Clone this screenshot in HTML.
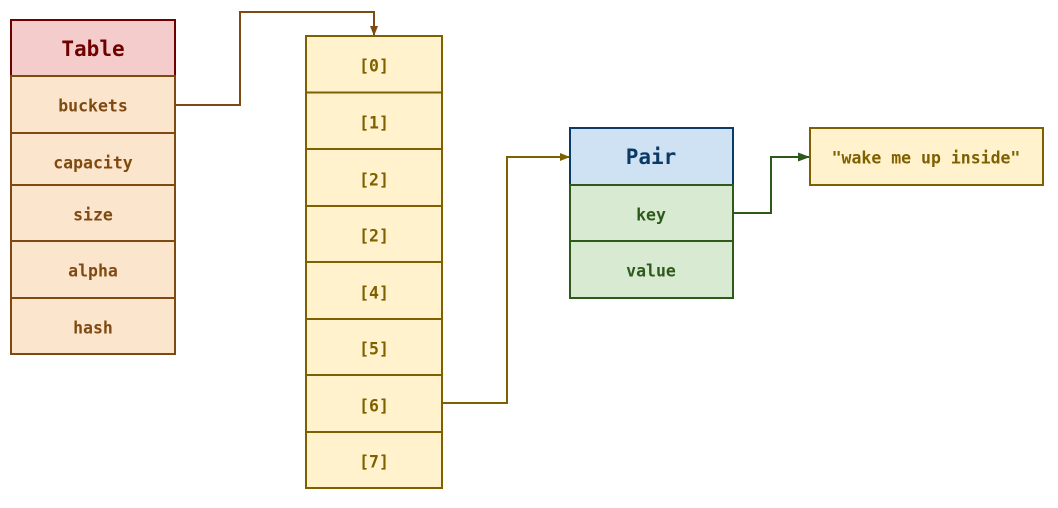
<!DOCTYPE html>
<html><head><meta charset="utf-8"><style>
html,body{margin:0;padding:0;background:#fff;}
svg text{font-family:"DejaVu Sans Mono","Liberation Mono",monospace;font-weight:bold;text-anchor:middle;dominant-baseline:central;}
</style></head><body>
<svg width="1058" height="503" viewBox="0 0 1058 503" xmlns="http://www.w3.org/2000/svg">
<defs>
<marker id="ab" markerWidth="10" markerHeight="10" refX="9" refY="5" orient="auto" markerUnits="userSpaceOnUse"><path d="M0,1 L10,5 L0,9 Z" fill="#7f4a12"/></marker>
<marker id="ag" markerWidth="10" markerHeight="10" refX="9" refY="5" orient="auto" markerUnits="userSpaceOnUse"><path d="M0,1 L10,5 L0,9 Z" fill="#7f6000"/></marker>
<marker id="agr" markerWidth="12" markerHeight="10" refX="11" refY="5" orient="auto" markerUnits="userSpaceOnUse"><path d="M0,0.5 L12,5 L0,9.5 Z" fill="#2d5a1b"/></marker>
</defs>
<rect x="11" y="20" width="164" height="56" fill="#f4cccc" stroke="#6f0000" stroke-width="2"/>
<g stroke="#7f4a12" stroke-width="2" fill="#fce5cd">
<rect x="11" y="76" width="164" height="57"/>
<rect x="11" y="133" width="164" height="52"/>
<rect x="11" y="185" width="164" height="56"/>
<rect x="11" y="241" width="164" height="57"/>
<rect x="11" y="298" width="164" height="56"/>
</g>
<text x="93" y="49" font-size="21" fill="#6f0000">Table</text>
<g font-size="16.5" fill="#7f4a12">
<text x="93" y="106">buckets</text>
<text x="93" y="163">capacity</text>
<text x="93" y="215">size</text>
<text x="93" y="271">alpha</text>
<text x="93" y="328">hash</text>
</g>
<g stroke="#7f6000" stroke-width="2" fill="#fff2cc">
<rect x="306" y="36" width="136" height="56.5"/>
<rect x="306" y="92.5" width="136" height="56.5"/>
<rect x="306" y="149" width="136" height="57"/>
<rect x="306" y="206" width="136" height="56"/>
<rect x="306" y="262" width="136" height="57"/>
<rect x="306" y="319" width="136" height="56"/>
<rect x="306" y="375" width="136" height="57"/>
<rect x="306" y="432" width="136" height="56"/>
</g>
<g font-size="16.5" fill="#7f6000">
<text x="374" y="66">[0]</text>
<text x="374" y="123">[1]</text>
<text x="374" y="180">[2]</text>
<text x="374" y="236">[2]</text>
<text x="374" y="293">[4]</text>
<text x="374" y="349">[5]</text>
<text x="374" y="406">[6]</text>
<text x="374" y="462">[7]</text>
</g>
<rect x="570" y="128" width="163" height="57" fill="#cfe2f3" stroke="#0b3a66" stroke-width="2"/>
<g stroke="#2d5a1b" stroke-width="2" fill="#d9ead3">
<rect x="570" y="185" width="163" height="56"/>
<rect x="570" y="241" width="163" height="57"/>
</g>
<text x="651" y="157" font-size="21" fill="#0b3a66">Pair</text>
<text x="651" y="215" font-size="16.5" fill="#2d5a1b">key</text>
<text x="651" y="271" font-size="16.5" fill="#2d5a1b">value</text>
<rect x="810" y="128" width="233" height="57" fill="#fff2cc" stroke="#7f6000" stroke-width="2"/>
<text x="926" y="158" font-size="16.5" fill="#7f6000">"wake me up inside"</text>
<path d="M175,105 H240 V12 H374 V35" fill="none" stroke="#7f4a12" stroke-width="2" marker-end="url(#ab)"/>
<path d="M442,403 H507 V157 H569" fill="none" stroke="#7f6000" stroke-width="2" marker-end="url(#ag)"/>
<path d="M733,213 H771 V157 H809" fill="none" stroke="#2d5a1b" stroke-width="2" marker-end="url(#agr)"/>
</svg>
</body></html>
